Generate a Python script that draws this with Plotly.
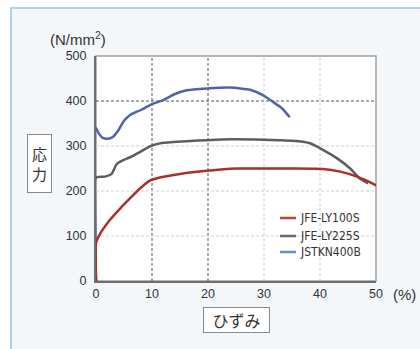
import plotly.graph_objects as go

# ---- data ----
series_names = ["JFE-LY100S", "JFE-LY225S", "JSTKN400B"]
line_colors = ["#a8322a", "#5e5e5e", "#5363ab"]
legend_colors = ["#b24a3c", "#6a6a6a", "#5b8fd6"]

ly100_x = [0, 0, 0.7, 2.5, 4.3, 6.1, 7.9, 9.6, 11.4, 15, 19.8, 25, 30, 35, 40.5, 43.6, 46.6, 49.5, 50]
ly100_y = [0, 84, 104, 136, 161, 184, 206, 223, 230, 238, 245, 250, 250, 250, 249, 243, 232, 216, 212]

ly225_x = [0, 0, 1.6, 2.8, 3.7, 4.6, 6.1, 7.9, 9.8, 12, 16.8, 19.8, 24, 30, 35.8, 38.2, 40.6, 43, 45.4, 47.1, 48.6]
ly225_y = [0, 230, 232, 238, 260, 267, 275, 287, 300, 307, 311, 313, 315, 314, 311, 306, 291, 273, 250, 228, 217]

stk_x = [0, 0, 0.5, 1.2, 2, 3, 4, 5, 6.1, 8, 10, 12, 14, 16.2, 19.8, 24, 27.5, 29.8, 31.6, 33.2, 34.6]
stk_y = [0, 340, 328, 318, 316, 320, 335, 356, 369, 380, 393, 402, 415, 424, 428, 430, 425, 413, 398, 384, 364]

x_ticks = [0, 10, 20, 30, 40, 50]
y_ticks = [0, 100, 200, 300, 400, 500]
dark_x_grid = [10, 20]
dark_y_grid = [400]

# ---- layout geometry (pixels) ----
W, H = 420, 349
L, R, T, B = 96, 376, 56, 281


def px(xp):
    return (xp - L) / (R - L)


def py(yp):
    return (B - yp) / (B - T)


fig = go.Figure()
# draw blue first, then gray, then red on top
for xs, ys, c in [(stk_x, stk_y, line_colors[2]), (ly225_x, ly225_y, line_colors[1]), (ly100_x, ly100_y, line_colors[0])]:
    fig.add_trace(go.Scatter(x=xs, y=ys, mode="lines", line=dict(color=c, width=2.5, shape="spline", smoothing=0.5),
                             showlegend=False, hoverinfo="skip"))

shapes = []
# outer frame
shapes.append(dict(type="rect", xref="paper", yref="paper", x0=px(11), x1=px(430), y0=py(360), y1=py(8),
                   fillcolor="#f4f7f9", line=dict(color="#9cc3e8", width=1.5), layer="below"))
# plot area white
shapes.append(dict(type="rect", xref="paper", yref="paper", x0=0, x1=1, y0=0, y1=1,
                   fillcolor="white", line=dict(color="#a0a0a0", width=1.5), layer="below"))
# gridlines (light and dark)
for v in x_ticks[1:-1]:
    dark = v in dark_x_grid
    shapes.append(dict(type="line", xref="x", yref="paper", x0=v, x1=v, y0=0, y1=1,
                       line=dict(color="#555555" if dark else "#d0d0d0", width=1, dash="3px,2px"), layer="below"))
for v in y_ticks[1:-1]:
    dark = v in dark_y_grid
    shapes.append(dict(type="line", xref="paper", yref="y", x0=0, x1=1, y0=v, y1=v,
                       line=dict(color="#555555" if dark else "#d0d0d0", width=1, dash="3px,2px"), layer="below"))

annotations = []
# legend
leg_y = [218, 236, 252]
for name, c, yy in zip(series_names, legend_colors, leg_y):
    shapes.append(dict(type="line", xref="paper", yref="paper", x0=px(280), x1=px(296), y0=py(yy), y1=py(yy),
                       line=dict(color=c, width=2.5), layer="above"))
    annotations.append(dict(xref="paper", yref="paper", x=px(298), y=py(yy), text=name, showarrow=False,
                            xanchor="left", yanchor="middle",
                            font=dict(family="DejaVu Sans Condensed, Liberation Sans", size=12, color="#333333")))

# unit labels
annotations.append(dict(xref="paper", yref="paper", x=px(78), y=py(39), text="(N/mm<sup>2</sup>)", showarrow=False,
                        xanchor="center", yanchor="middle",
                        font=dict(family="Liberation Sans, Arial", size=15, color="#333333")))
annotations.append(dict(xref="paper", yref="paper", x=px(404), y=py(294), text="(%)", showarrow=False,
                        xanchor="center", yanchor="middle",
                        font=dict(family="Liberation Sans, Arial", size=15, color="#333333")))
# axis title boxes
annotations.append(dict(xref="paper", yref="paper", x=px(39.5), y=py(163.5), text="応<br>力", showarrow=False,
                        xanchor="center", yanchor="middle", width=23, height=57, borderpad=0,
                        bordercolor="#8a8a8a", borderwidth=1, bgcolor="white", valign="middle",
                        font=dict(family="Noto Sans CJK JP", size=15, color="#333333")))
annotations.append(dict(xref="paper", yref="paper", x=px(236.7), y=py(320.3), text="ひずみ", showarrow=False,
                        xanchor="center", yanchor="middle", width=65, height=24, borderpad=0,
                        bordercolor="#8a8a8a", borderwidth=1, bgcolor="white", valign="middle",
                        font=dict(family="Noto Sans CJK JP", size=16, color="#333333")))

tick_font = dict(family="Liberation Sans, Arial", size=12.5, color="#333333")
fig.update_layout(
    width=W, height=H,
    margin=dict(l=L, r=W - R, t=T, b=H - B),
    paper_bgcolor="white",
    plot_bgcolor="rgba(0,0,0,0)",
    shapes=shapes,
    annotations=annotations,
    showlegend=False,
    xaxis=dict(range=[0, 50], tickvals=x_ticks, ticktext=[str(v) for v in x_ticks], showgrid=False,
               zeroline=False, showline=True, linecolor="#6e6e6e", linewidth=2, ticks="", tickfont=tick_font,
               layer="below traces", fixedrange=True),
    yaxis=dict(range=[0, 500], tickvals=y_ticks, ticktext=[str(v) for v in y_ticks], showgrid=False,
               zeroline=False, showline=True, linecolor="#6e6e6e", linewidth=2, ticks="", tickfont=tick_font,
               ticklabelstandoff=5, layer="below traces", fixedrange=True),
)

fig.write_html("out.html", config={"displayModeBar": False},
               post_script="document.body.style.margin='0';document.body.style.padding='0';")
